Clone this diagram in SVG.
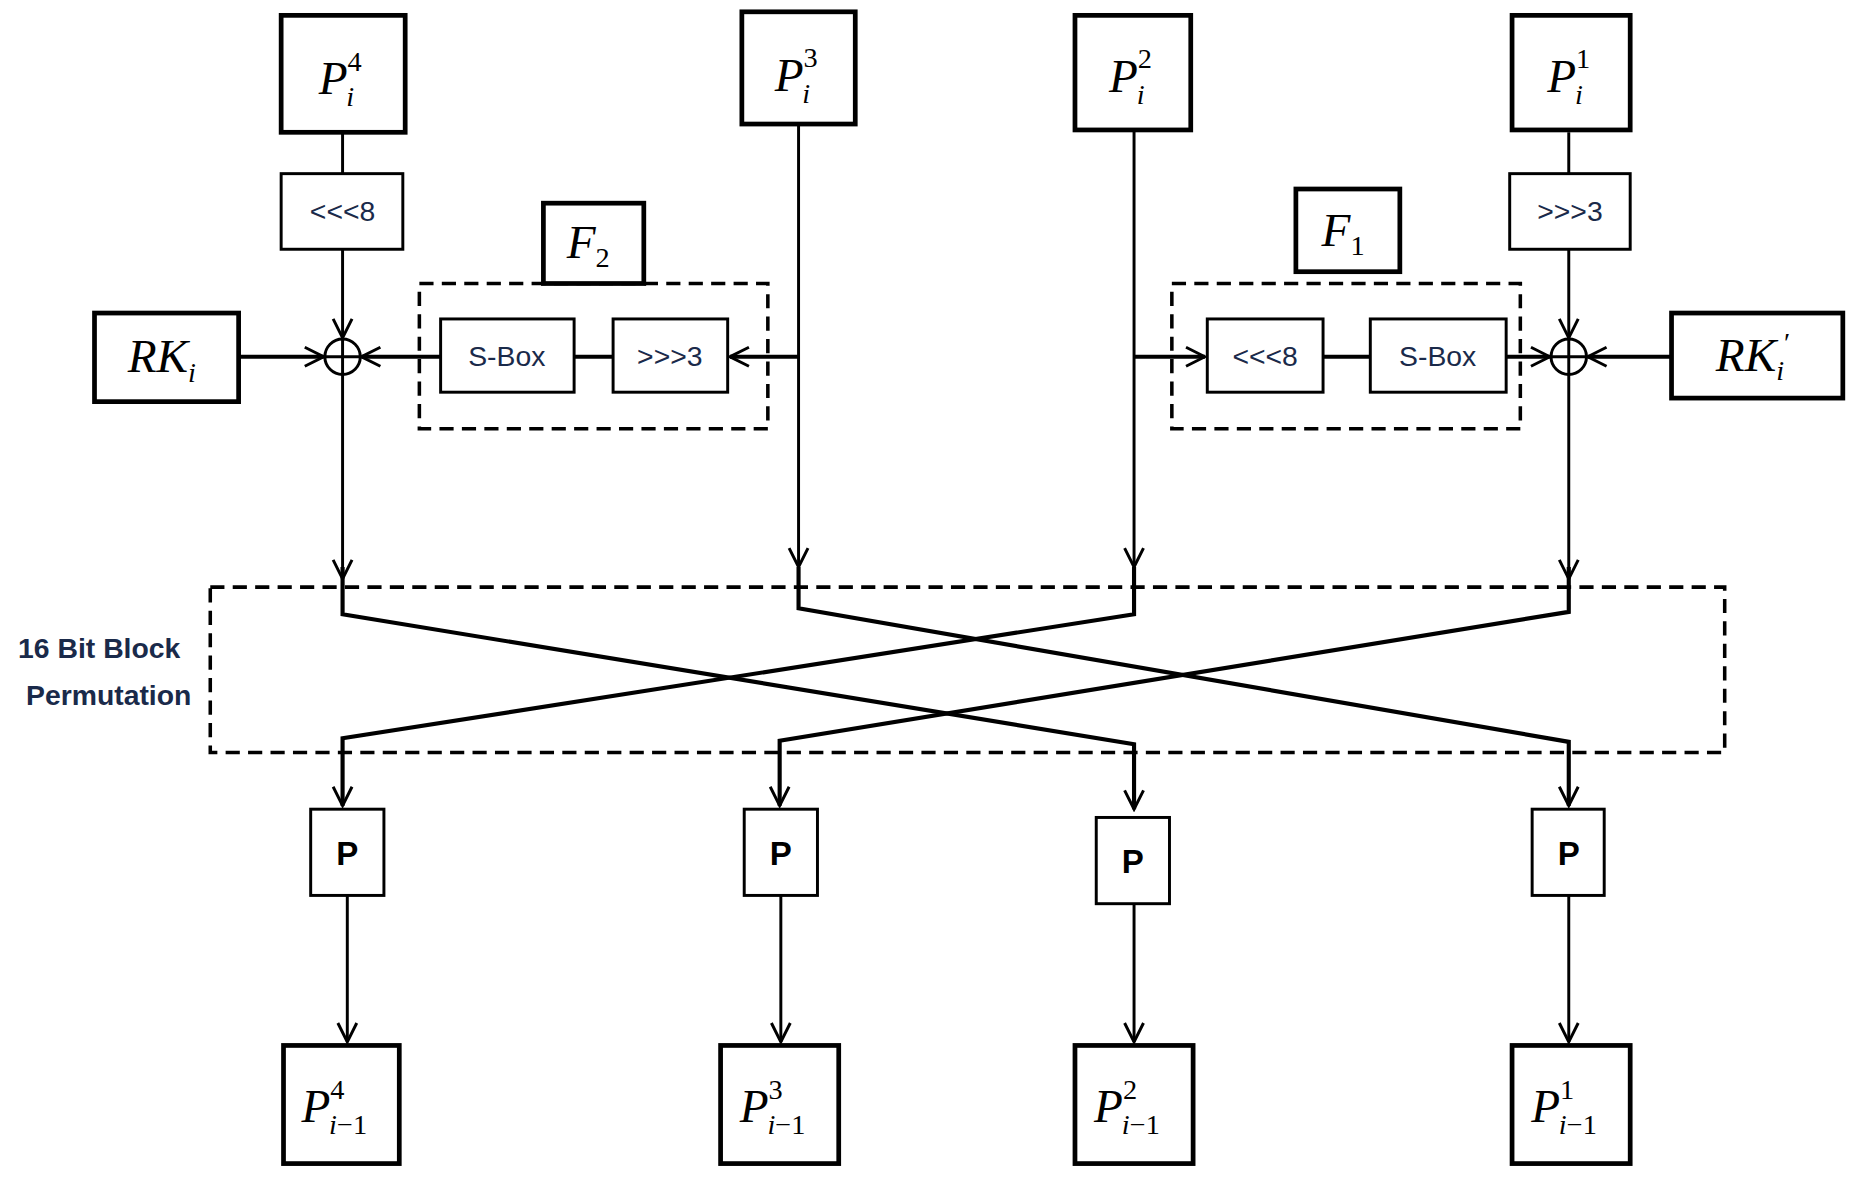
<svg xmlns="http://www.w3.org/2000/svg" width="1851" height="1182" viewBox="0 0 1851 1182">
<defs>
<style>
.b{fill:#fff;stroke:#000;stroke-width:4}
.s{fill:#fff;stroke:#000;stroke-width:2.5}
.d{fill:none;stroke:#000;stroke-width:3;stroke-dasharray:12 7}
.l{fill:none;stroke:#000;stroke-width:2.5}
.w{fill:none;stroke:#000;stroke-width:3.5}
.m{font-family:"Liberation Serif",serif;font-style:italic;font-size:40px;text-anchor:middle}
.sup{font-size:24px}
.n{font-style:normal}
.t{font-family:"Liberation Sans Narrow","Liberation Sans",sans-serif;font-size:24px;fill:#1a2a4a;text-anchor:middle}
.p{font-family:"Liberation Sans",sans-serif;font-weight:bold;font-size:28px;text-anchor:middle}
</style>
<marker id="a" viewBox="0 0 20 20" refX="18" refY="10" markerWidth="20" markerHeight="20" markerUnits="userSpaceOnUse" orient="auto"><path d="M2,2 L18,10 L2,18" fill="none" stroke="#000" stroke-width="2.5"/></marker>
</defs>
<rect width="1851" height="1182" fill="#fff"/>
<g transform="scale(1.1813)">
<g id="connectors">
<path class="l" d="M290,112 V147 M290,211 V286" marker-end="url(#a)"/>
<path class="l" d="M1328,112 V147 M1328,211 V286" marker-end="url(#a)"/>
<path class="w" d="M202,302 H274" marker-end="url(#a)"/>
<path class="w" d="M1415,302 H1344" marker-end="url(#a)"/>
<path class="w" d="M373,302 H306" marker-end="url(#a)"/>
<path class="w" d="M486,302 H519"/>
<path class="w" d="M676,302 H618" marker-end="url(#a)"/>
<path class="w" d="M960,302 H1020" marker-end="url(#a)"/>
<path class="w" d="M1120,302 H1160"/>
<path class="w" d="M1275,302 H1312" marker-end="url(#a)"/>
<path class="l" d="M290,316 V490" marker-end="url(#a)"/>
<path class="l" d="M1328,316 V490" marker-end="url(#a)"/>
<path class="l" d="M676,105 V480" marker-end="url(#a)"/>
<path class="l" d="M960,110 V480" marker-end="url(#a)"/>
<path class="w" d="M290,480 V520 L960,630 V685" marker-end="url(#a)"/>
<path class="w" d="M676,480 V515 L1328,628 V682" marker-end="url(#a)"/>
<path class="w" d="M960,480 V520 L290,625 V682" marker-end="url(#a)"/>
<path class="w" d="M1328,480 V518 L660,627 V682" marker-end="url(#a)"/>
<path class="l" d="M294,758 V882" marker-end="url(#a)"/>
<path class="l" d="M661,758 V882" marker-end="url(#a)"/>
<path class="l" d="M960,765 V882" marker-end="url(#a)"/>
<path class="l" d="M1328,758 V882" marker-end="url(#a)"/>
</g>
<g id="P4"><rect class="b" x="238" y="13" width="105" height="99"/><text class="m" x="288" y="80">P<tspan class="sup n" dy="-20">4</tspan><tspan class="sup" dx="-13" dy="30">i</tspan></text></g>
<g id="P3"><rect class="b" x="628" y="10" width="96" height="95"/><text class="m" x="674" y="77">P<tspan class="sup n" dy="-20">3</tspan><tspan class="sup" dx="-13" dy="30">i</tspan></text></g>
<g id="P2"><rect class="b" x="910" y="13" width="98" height="97"/><text class="m" x="957" y="78">P<tspan class="sup n" dy="-20">2</tspan><tspan class="sup" dx="-13" dy="30">i</tspan></text></g>
<g id="P1"><rect class="b" x="1280" y="13" width="100" height="97"/><text class="m" x="1328" y="78">P<tspan class="sup n" dy="-20">1</tspan><tspan class="sup" dx="-13" dy="30">i</tspan></text></g>
<g id="rotl8"><rect class="s" x="238" y="147" width="103" height="64"/><text class="t" x="290" y="187">&lt;&lt;&lt;8</text></g>
<g id="rotr3"><rect class="s" x="1278" y="147" width="102" height="64"/><text class="t" x="1329" y="187">&gt;&gt;&gt;3</text></g>
<g id="F2"><rect class="d" x="355" y="240" width="295" height="123"/><rect class="b" x="460" y="172" width="85" height="68"/><text class="m" x="498" y="218" font-size="34">F<tspan class="sup n" dy="8">2</tspan></text>
<rect class="s" x="373" y="270" width="113" height="62"/><text class="t" x="429" y="310">S-Box</text>
<rect class="s" x="519" y="270" width="97" height="62"/><text class="t" x="567" y="310">&gt;&gt;&gt;3</text></g>
<g id="F1"><rect class="d" x="992" y="240" width="295" height="123"/><rect class="b" x="1097" y="160" width="88" height="70"/><text class="m" x="1137" y="208" font-size="34">F<tspan class="sup n" dy="8">1</tspan></text>
<rect class="s" x="1022" y="270" width="98" height="62"/><text class="t" x="1071" y="310">&lt;&lt;&lt;8</text>
<rect class="s" x="1160" y="270" width="115" height="62"/><text class="t" x="1217" y="310">S-Box</text></g>
<g id="xor1"><circle class="l" cx="290" cy="302" r="15"/><path class="l" d="M275,302 H305 M290,287 V317"/></g>
<g id="xor2"><circle class="l" cx="1328" cy="302" r="15"/><path class="l" d="M1313,302 H1343 M1328,287 V317"/></g>
<g id="RK"><rect class="b" x="80" y="265" width="122" height="75"/><text class="m" x="137" y="315">RK<tspan class="sup" dy="8">i</tspan></text></g>
<g id="RK2"><rect class="b" x="1415" y="265" width="145" height="72"/><text class="m" x="1484" y="314">RK<tspan class="sup" dy="8">i</tspan><tspan class="sup n" dy="-24">′</tspan></text></g>
<g id="perm"><rect class="d" x="178" y="497" width="1282" height="140"/><text class="t" x="84" y="557" font-weight="bold" font-size="23">16 Bit Block</text><text class="t" x="92" y="597" font-weight="bold" font-size="23">Permutation</text></g>
<g id="Pb1"><rect class="s" x="263" y="685" width="62" height="73"/><text class="p" x="294" y="732">P</text></g>
<g id="Pb2"><rect class="s" x="630" y="685" width="62" height="73"/><text class="p" x="661" y="732">P</text></g>
<g id="Pb3"><rect class="s" x="928" y="692" width="62" height="73"/><text class="p" x="959" y="739">P</text></g>
<g id="Pb4"><rect class="s" x="1297" y="685" width="61" height="73"/><text class="p" x="1328" y="732">P</text></g>
<g id="O4"><rect class="b" x="240" y="885" width="98" height="100"/><text class="m" x="283" y="950">P<tspan class="sup n" dy="-20">4</tspan><tspan class="sup" dx="-13" dy="30">i</tspan><tspan class="sup n">−1</tspan></text></g>
<g id="O3"><rect class="b" x="610" y="885" width="100" height="100"/><text class="m" x="654" y="950">P<tspan class="sup n" dy="-20">3</tspan><tspan class="sup" dx="-13" dy="30">i</tspan><tspan class="sup n">−1</tspan></text></g>
<g id="O2"><rect class="b" x="910" y="885" width="100" height="100"/><text class="m" x="954" y="950">P<tspan class="sup n" dy="-20">2</tspan><tspan class="sup" dx="-13" dy="30">i</tspan><tspan class="sup n">−1</tspan></text></g>
<g id="O1"><rect class="b" x="1280" y="885" width="100" height="100"/><text class="m" x="1324" y="950">P<tspan class="sup n" dy="-20">1</tspan><tspan class="sup" dx="-13" dy="30">i</tspan><tspan class="sup n">−1</tspan></text></g>
</g>
</svg>
